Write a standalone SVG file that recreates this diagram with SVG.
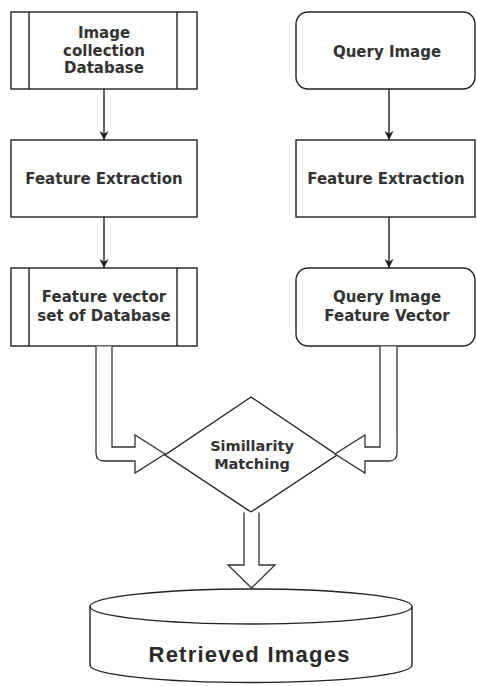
<svg xmlns="http://www.w3.org/2000/svg" width="477" height="686" viewBox="0 0 477 686">
  <defs>
    <style>
      .shape { fill: #ffffff; stroke: #222222; stroke-width: 1.4; }
      .line { fill: none; stroke: #222222; stroke-width: 1.4; }
      .flex { fill: #ffffff; stroke: #333333; stroke-width: 1.3; stroke-linejoin: miter; }
      .lbl { font-family: "DejaVu Sans", Verdana, sans-serif; font-weight: bold; font-size: 15px; fill: #333333; text-anchor: middle; }
      .lbl-sm { font-size: 14.5px; }
      .lbl-big { font-family: "Liberation Sans", Arial, sans-serif; font-weight: bold; font-size: 22px; fill: #2a2a2a; text-anchor: middle; }
    </style>
    <marker id="arrowhead" viewBox="0 0 10 10" refX="10" refY="5" markerWidth="9" markerHeight="9" markerUnits="userSpaceOnUse" orient="auto">
      <path d="M0,0 L10,5 L0,10 L3,5 Z" fill="#222222"/>
    </marker>
  </defs>

  <rect width="477" height="686" fill="#ffffff"/>

  <!-- left column -->
  <g id="image-collection-db">
    <rect class="shape" x="11" y="12" width="186" height="77"/>
    <line class="line" x1="29" y1="12" x2="29" y2="89"/>
    <line class="line" x1="177" y1="12" x2="177" y2="89"/>
    <text class="lbl" x="104" y="38">Image</text>
    <text class="lbl" x="104" y="55.5">collection</text>
    <text class="lbl" x="104" y="73">Database</text>
  </g>

  <g id="feature-extraction-db">
    <rect class="shape" x="11" y="140" width="186" height="77"/>
    <text class="lbl" x="104" y="184">Feature Extraction</text>
  </g>

  <g id="feature-vector-db">
    <rect class="shape" x="11" y="268" width="186" height="78"/>
    <line class="line" x1="29" y1="268" x2="29" y2="346"/>
    <line class="line" x1="177" y1="268" x2="177" y2="346"/>
    <text class="lbl" x="104" y="302">Feature vector</text>
    <text class="lbl" x="104" y="320.5">set of Database</text>
  </g>

  <!-- right column -->
  <g id="query-image">
    <rect class="shape" x="296" y="12" width="179" height="77" rx="12" ry="12"/>
    <text class="lbl" x="387" y="56.5">Query Image</text>
  </g>

  <g id="feature-extraction-query">
    <rect class="shape" x="296" y="140" width="179" height="77"/>
    <text class="lbl" x="386" y="184">Feature Extraction</text>
  </g>

  <g id="query-feature-vector">
    <rect class="shape" x="296" y="268" width="179" height="78" rx="12" ry="12"/>
    <text class="lbl" x="387" y="302">Query Image</text>
    <text class="lbl" x="387" y="320.5">Feature Vector</text>
  </g>

  <!-- decision -->
  <g id="similarity-matching">
    <polygon class="shape" points="251,397 337,455 251,512 165,455"/>
    <text class="lbl lbl-sm" x="252" y="450.5">Simillarity</text>
    <text class="lbl lbl-sm" x="252" y="468.5">Matching</text>
  </g>

  <!-- result store -->
  <g id="retrieved-images">
    <path class="shape" d="M90,606.5 L90,665 A161,17.5 0 0 0 412,665 L412,606.5"/>
    <ellipse class="shape" cx="251" cy="606.5" rx="161" ry="17.5"/>
    <text class="lbl-big" x="249" y="662" textLength="201">Retrieved Images</text>
  </g>

  <!-- connectors -->
  <g id="connectors">
    <line class="line" x1="104" y1="89" x2="104" y2="140" marker-end="url(#arrowhead)"/>
    <line class="line" x1="104" y1="217" x2="104" y2="268" marker-end="url(#arrowhead)"/>
    <line class="line" x1="389" y1="89" x2="389" y2="140" marker-end="url(#arrowhead)"/>
    <line class="line" x1="389" y1="217" x2="389" y2="268" marker-end="url(#arrowhead)"/>

    <!-- hollow arrows into the matcher -->
    <path class="flex" d="M96,346.5 L96,453 Q96,461 104,461 L135,461 L135,473 L165,454 L135,435 L135,447 L112,447 L112,346.5"/>
    <path class="flex" d="M397,346.5 L397,453 Q397,461 389,461 L365,461 L365,473 L335,454 L365,435 L365,447 L380,447 L380,346.5"/>

    <!-- hollow arrow to results -->
    <path class="flex" d="M244,512.5 L244,565 L228,565 L251.5,588 L275,565 L259,565 L259,512.5"/>
  </g>
</svg>
